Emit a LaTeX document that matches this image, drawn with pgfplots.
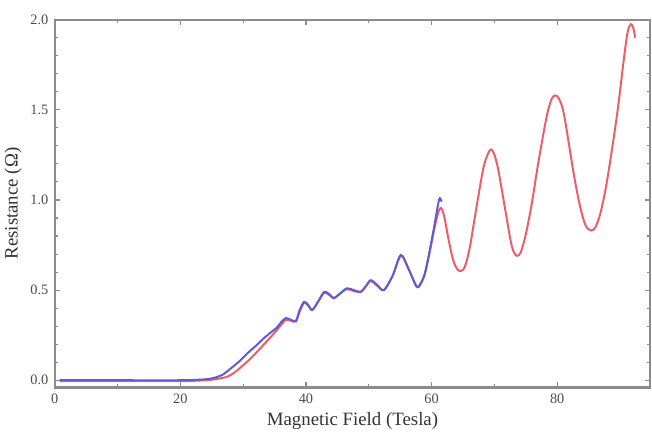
\documentclass[border=0pt]{standalone}
\usepackage{fontspec}
\setmainfont{Liberation Serif}
\usepackage{pgfplots}
\pgfplotsset{compat=1.18}
\usetikzlibrary{calc}
\definecolor{cred}{RGB}{238,92,104}
\definecolor{cblue}{RGB}{92,92,214}
\definecolor{frame}{RGB}{140,140,140}
\begin{document}
\begin{tikzpicture}
\begin{axis}[
  scale only axis,
  width=332pt, height=205pt,
  xmin=0, xmax=94.8, ymin=-0.04, ymax=2.0,
  axis line style={frame, line width=1.3pt},
  tick style={frame, line width=0.6pt},
  major tick length=3pt, minor tick length=1.8pt,
  tick align=inside,
  xtick={0,20,40,60,80}, minor x tick num=1,
  ytick={0,0.5,1,1.5,2}, minor y tick num=4,
  yticklabel style={/pgf/number format/fixed, /pgf/number format/fixed zerofill, /pgf/number format/precision=1},
  /pgf/number format/assume math mode=true,
  ticklabel style={font=\footnotesize, text=black!70},
  xlabel={Magnetic Field (Tesla)}, ylabel={Resistance (Ω)},
  label style={font=\fontsize{10.5}{12}\selectfont, text=black!80},
  xlabel style={yshift=2pt},
  ylabel style={yshift=-2pt},
]
\addplot[cred, line width=1.1pt, smooth] coordinates {
(0.8,-0.005) (10,-0.005) (20,-0.005) (24,0.0) (26,0.008) (27.5,0.02) (28.5,0.04) (29.4,0.065) (30.7,0.105) (32,0.15) (33.2,0.195) (34.4,0.24) (35.3,0.275) (36,0.305) (36.8,0.335) (37.6,0.33) (38.4,0.325) (39,0.38) (39.7,0.43) (40.3,0.415) (41,0.39) (42,0.44) (42.9,0.485) (43.8,0.47) (44.4,0.455) (45.4,0.48) (46.5,0.505) (47.6,0.495) (48.7,0.49) (49.5,0.52) (50.3,0.55) (51.3,0.525) (52.4,0.50) (53.8,0.58) (55.1,0.69) (56.3,0.62) (57.6,0.52) (58.2,0.53) (58.9,0.585) (59.7,0.71) (60.5,0.85) (61.1,0.935) (61.5,0.955) (62,0.91) (62.7,0.78) (63.4,0.67) (64,0.62) (64.6,0.605) (65.3,0.63) (66.1,0.74) (67,0.93) (68.2,1.17) (68.9,1.25) (69.4,1.28) (69.9,1.26) (70.6,1.17) (71.8,0.93) (72.6,0.77) (73.1,0.71) (73.6,0.69) (74.2,0.71) (75,0.81) (76,0.99) (77,1.21) (78.3,1.46) (79.1,1.56) (79.7,1.58) (80.3,1.56) (81.1,1.47) (82.6,1.15) (83.6,0.97) (84.5,0.86) (85.4,0.83) (86.1,0.85) (86.9,0.93) (87.8,1.08) (88.8,1.3) (89.7,1.52) (90.6,1.78) (91.2,1.93) (91.7,1.975) (92.1,1.955) (92.4,1.9)
};
\addplot[cblue, line width=1.1pt, smooth] coordinates {
(0.8,0.0) (10,0.0) (20,0.0) (23,0.003) (25,0.01) (26.7,0.03) (28,0.065) (29.4,0.105) (30.7,0.15) (32,0.19) (33.2,0.23) (34.4,0.265) (35.3,0.29) (36,0.32) (36.8,0.345) (37.6,0.335) (38.4,0.33) (39,0.39) (39.7,0.435) (40.3,0.42) (41,0.39) (42,0.44) (42.9,0.49) (43.8,0.475) (44.4,0.455) (45.4,0.48) (46.5,0.51) (47.6,0.50) (48.7,0.49) (49.5,0.52) (50.3,0.555) (51.3,0.53) (52.4,0.50) (53.8,0.58) (55.1,0.695) (56.3,0.62) (57.6,0.52) (58.2,0.535) (58.9,0.59) (59.7,0.72) (60.5,0.87) (61,0.97) (61.3,1.01) (61.6,0.99)
};
\end{axis}
\pgfresetboundingbox
\path[use as bounding box] ($(current axis.south west)+(-30.5pt,-25pt)$) rectangle ($(current axis.north east)+(1pt,11pt)$);
\end{tikzpicture}
\end{document}
